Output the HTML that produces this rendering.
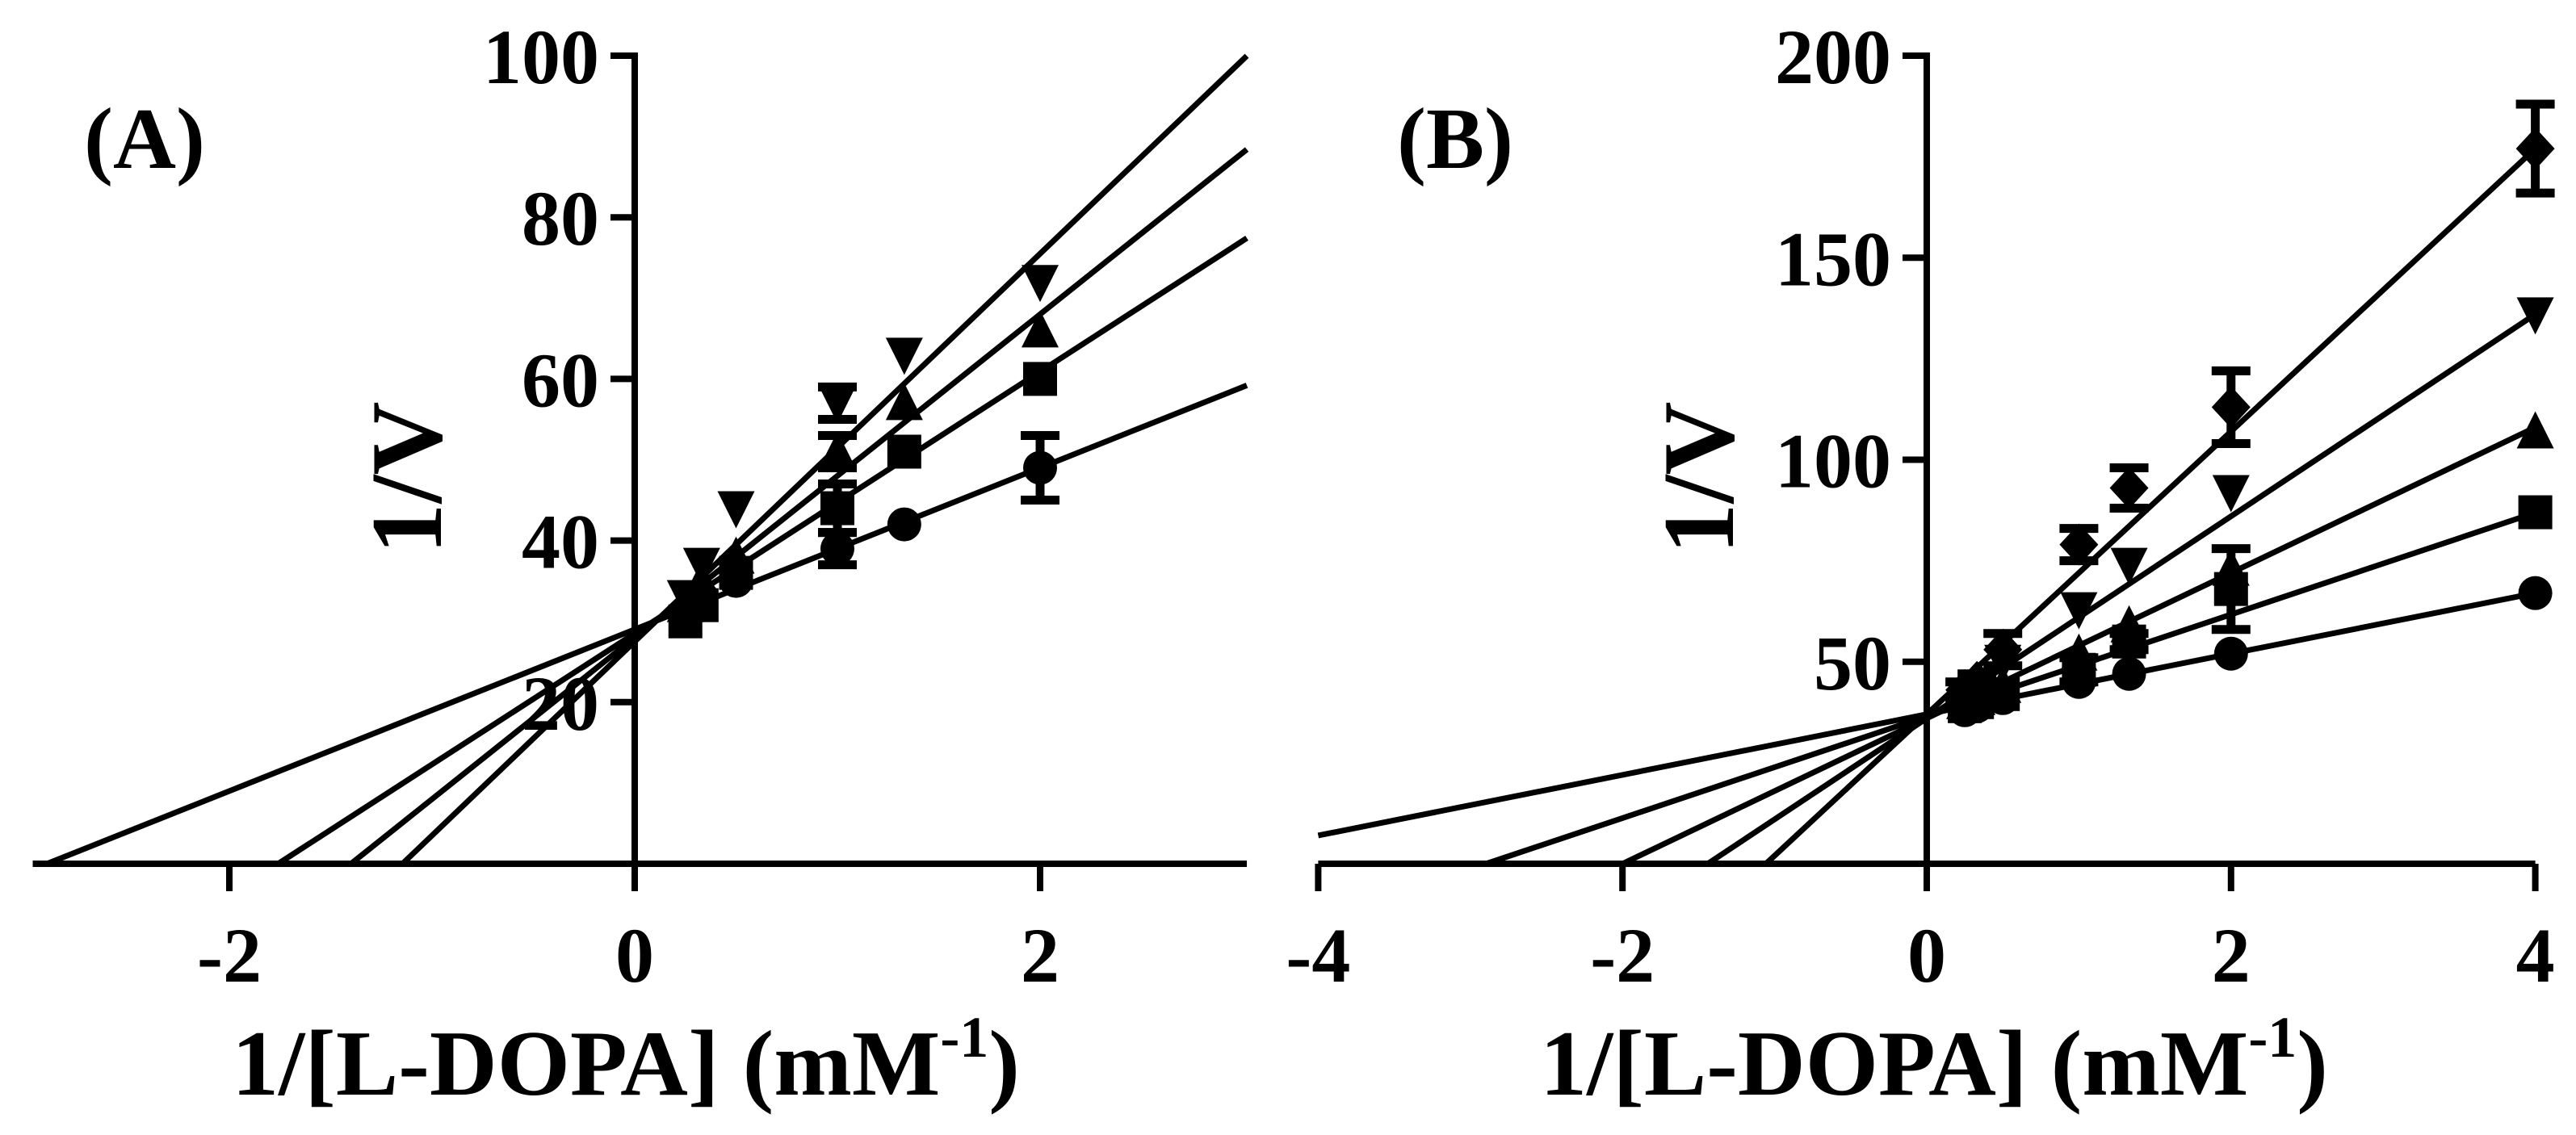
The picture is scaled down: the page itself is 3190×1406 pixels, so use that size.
<!DOCTYPE html>
<html><head><meta charset="utf-8"><style>
html,body{margin:0;padding:0;background:#fff;}
svg{display:block;}
text{font-family:"Liberation Serif",serif;fill:#000;}
</style></head>
<body>
<svg id="chart" width="3190" height="1406" viewBox="0 0 3190 1406" xmlns="http://www.w3.org/2000/svg">
<rect width="3190" height="1406" fill="#fff"/>
</svg>
<script>
// Panel A data
const xA = [0.25, 0.33, 0.5, 1, 1.33, 2];
const aCircle = [31, 33, 35, 39, 42, 49];
const aCircleErr = [1, 1, 1.5, 2, 1, 4];
const aSquare = [30, 32, 36, 44, 51, 60];
const aSquareErr = [1, 1, 1, 3, 1, 1];
const aUp = [32, 35, 38, 51, 57, 66];
const aUpErr = [1, 1, 1, 2, 1, 1];
const aDown = [33, 37, 44, 57, 63, 72];
const aDownErr = [1, 1, 1, 2, 1, 1];
const aLineIntercept = [29, 28.5, 28, 27.5];
const aLineSlope = [10, 16.2, 20, 24];
const aXTicks = [-2, 0, 2];
const aYTicks = [20, 40, 60, 80, 100];
// Panel B data
const xB = [0.25, 0.33, 0.5, 1, 1.33, 2, 4];
const bCircle = [38, 39, 41, 45, 47, 52, 67];
const bSquare = [39, 40, 42, 48, 55, 68, 87];
const bSquareErr = [1, 1, 1, 3, 2, 10, 1];
const bUp = [40, 41, 44, 52, 59, 73, 107];
const bDown = [41, 43, 50, 63, 74, 92, 136];
const bDiamond = [43, 45, 53, 79, 93, 113, 177];
const bDiamondErr = [2, 2, 4, 4, 5, 9, 11];
const bLineIntercept = [37, 36.5, 36, 36, 37];
const bLineSlope = [7.5, 12.6, 18, 25, 35];
const bXTicks = [-4, -2, 0, 2, 4];
const bYTicks = [50, 100, 150, 200];

const NS = "http://www.w3.org/2000/svg";
const svg = document.getElementById('chart');
function mk(tag, attrs, parent) {
  const e = document.createElementNS(NS, tag);
  for (const k in attrs) e.setAttribute(k, attrs[k]);
  (parent || svg).appendChild(e);
  return e;
}

function panel(cfg) {
  const g = mk('g', {});
  
  
  const sx = v => cfg.x0 + v * cfg.ux;
  const sy = v => cfg.y0 - v * cfg.uy;
  const xa = mk('line', {x1: sx(cfg.xmin), x2: sx(cfg.xmax), y1: cfg.y0, y2: cfg.y0, stroke: '#000', 'stroke-width': 8}, g);
  
  
  const ya = mk('line', {x1: cfg.x0, x2: cfg.x0, y1: sy(cfg.ymax) - 4, y2: cfg.y0 + 4, stroke: '#000', 'stroke-width': 8}, g);
  
  
  cfg.xt.forEach(t => {
    const tk = mk('line', {x1: sx(t), x2: sx(t), y1: cfg.y0, y2: cfg.y0 + 34, stroke: '#000', 'stroke-width': 8}, g);
    
    
    const tl = mk('text', {x: sx(t), y: cfg.y0 + 146, 'text-anchor': 'middle', 'font-size': cfg.tickFont, 'font-weight': cfg.tickWeight}, g);
    tl.textContent = t;
    
    
  });
  cfg.yt.forEach(t => {
    const tk = mk('line', {x1: cfg.x0 - 30, x2: cfg.x0, y1: sy(t), y2: sy(t), stroke: '#000', 'stroke-width': 8}, g);
    
    
    const tl = mk('text', {x: cfg.x0 - 44, y: sy(t) + 34, 'text-anchor': 'end', 'font-size': cfg.tickFont, 'font-weight': cfg.tickWeight}, g);
    tl.textContent = t;
    
    
  });
  cfg.b.forEach((b, i) => {
    const m = cfg.m[i];
    const xs = Math.max(cfg.xmin, -b / m);
    const l = mk('line', {x1: sx(xs), y1: sy(m * xs + b), x2: sx(cfg.xmax), y2: sy(m * cfg.xmax + b), stroke: '#000', 'stroke-width': 7}, g);
    
    
  });
  cfg.series.forEach(s => {
    s.y.forEach((v, j) => {
      const cx = sx(cfg.xs[j]), cy = sy(v);
      if (s.err && s.err[j] > 1.5) {
        const e = s.err[j];
        const eb = mk('path', {d: `M${cx},${sy(v+e)}V${sy(v-e)}M${cx-24},${sy(v+e)}H${cx+24}M${cx-24},${sy(v-e)}H${cx+24}`, stroke: '#000', 'stroke-width': 11, fill: 'none'}, g);
        
        
      }
      const r = 21;
      let p;
      if (s.shape === 'circle') p = mk('circle', {cx, cy, r: r}, g);
      else if (s.shape === 'square') p = mk('rect', {x: cx - r, y: cy - r, width: 2 * r, height: 2 * r}, g);
      else if (s.shape === 'up') p = mk('path', {d: `M${cx},${cy-r-4}L${cx+r+2},${cy+r}L${cx-r-2},${cy+r}Z`}, g);
      else if (s.shape === 'down') p = mk('path', {d: `M${cx-r-2},${cy-r}L${cx+r+2},${cy-r}L${cx},${cy+r+4}Z`}, g);
      else p = mk('path', {d: `M${cx},${cy-r-5}L${cx+r+3},${cy}L${cx},${cy+r+5}L${cx-r-3},${cy}Z`}, g);
      p.setAttribute('fill', '#000');
      
      
    });
  });
  const pl = mk('text', {x: cfg.labelX, y: 208, 'font-size': 108, 'font-weight': 'bold'}, g);
  pl.textContent = cfg.label;
  
  
  const yl = mk('text', {x: 0, y: 0, 'font-size': 126, 'font-weight': 'bold', 'text-anchor': 'middle', transform: `translate(${cfg.x0 - 240},${592}) rotate(-90)`}, g);
  yl.textContent = '1/V';
  
  
  const xl = mk('text', {x: cfg.titleX, y: 1356, 'font-size': 116, 'font-weight': 'bold', 'text-anchor': 'middle'}, g);
  xl.innerHTML = '1/[L-DOPA] (mM<tspan font-size="72" dy="-47">-1</tspan><tspan dy="47">)</tspan>';
  
  
}

panel({name: 'panel-a', x0: 786, y0: 1070, ux: 251, uy: 10.01, xmin: -2.97, xmax: 3.02, ymax: 100,
  xt: aXTicks, yt: aYTicks, xs: xA, b: aLineIntercept, m: aLineSlope, tickFont: 96, tickWeight: 'bold',
  label: '(A)', labelX: 104, titleX: 775,
  series: [{shape: 'circle', y: aCircle, err: aCircleErr}, {shape: 'square', y: aSquare, err: aSquareErr},
           {shape: 'up', y: aUp, err: aUpErr}, {shape: 'down', y: aDown, err: aDownErr}]});

panel({name: 'panel-b', x0: 2386, y0: 1070, ux: 188.4, uy: 5.005, xmin: -4, xmax: 4, ymax: 200,
  xt: bXTicks, yt: bYTicks, xs: xB, b: bLineIntercept, m: bLineSlope, tickFont: 96, tickWeight: 'bold',
  label: '(B)', labelX: 1730, titleX: 2395,
  series: [{shape: 'circle', y: bCircle}, {shape: 'square', y: bSquare, err: bSquareErr},
           {shape: 'up', y: bUp}, {shape: 'down', y: bDown}, {shape: 'diamond', y: bDiamond, err: bDiamondErr}]});
</script>
</body></html>
